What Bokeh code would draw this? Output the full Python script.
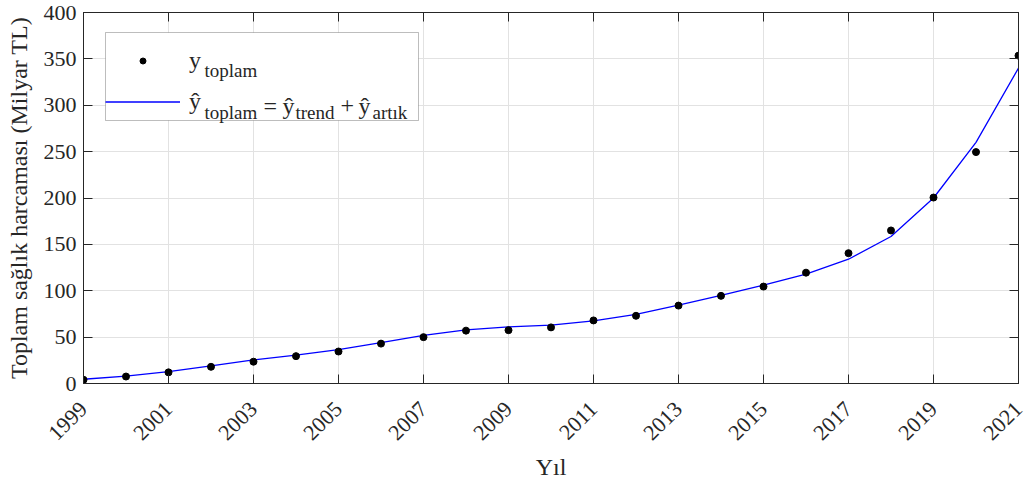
import math
from bokeh.plotting import figure
from bokeh.models import (Range1d, FixedTicker, LinearAxis, Legend, LegendItem,
                          Label, CustomJSTickFormatter, BoxAnnotation)
from bokeh.embed import file_html
from bokeh.resources import INLINE

# ---- data ----
years = list(range(1999, 2022))
y_observed = [4, 7.5, 12, 18, 23.5, 29.5, 34.5, 43, 50, 57, 57.5, 60.5, 68, 73,
              84, 94.5, 104.5, 119.5, 140.5, 165, 200.5, 249.5, 353.5]
y_fitted = [4.6, 8, 12.8, 19, 25.4, 30.5, 36.5, 44, 52, 57.8, 61, 63, 67.6, 74.5,
            84.5, 95, 106, 118, 134, 158.5, 200, 260, 340]
x_ticks = list(range(1999, 2022, 2))
y_ticks = list(range(0, 401, 50))

# ---- layout ----
W, H = 1033, 482
BL, BR, BT, BB = 83, 15, 12, 99
FRAME_H = H - BT - BB
FONT = "Liberation Serif"
INK = "#262626"

p = figure(width=W, height=H, output_backend="svg", toolbar_location=None,
           x_range=Range1d(1999, 2021), y_range=Range1d(0, 400),
           min_border_left=BL, min_border_right=BR, min_border_top=BT,
           min_border_bottom=BB, x_axis_label="Yıl",
           y_axis_label="Toplam sağlık harcaması (Milyar TL)")
p.background_fill_color = "white"
p.border_fill_color = "white"
p.outline_line_color = INK

p.xaxis.ticker = FixedTicker(ticks=x_ticks)
p.yaxis.ticker = FixedTicker(ticks=y_ticks)

# bottom axis with rotated year labels
bx = p.below[0]
bx.major_label_text_font = FONT
bx.major_label_text_font_size = "22px"
bx.major_label_text_color = INK
bx.major_label_orientation = math.pi / 4
bx.major_label_standoff = 22
bx.axis_label_standoff = 4

# mirrored axes on top and right (ticks only)
blank = CustomJSTickFormatter(code="return ''")
top_ax = LinearAxis(ticker=FixedTicker(ticks=x_ticks), formatter=blank)
right_ax = LinearAxis(ticker=FixedTicker(ticks=y_ticks), formatter=blank)
for ax in (top_ax, right_ax):
    ax.major_label_text_font_size = "0px"
    ax.major_label_standoff = 0
p.add_layout(top_ax, "above")
p.add_layout(right_ax, "right")

ly = p.left[0]
for ax in (bx, top_ax, right_ax, ly):
    ax.axis_line_color = INK
    ax.axis_line_width = 1
    ax.major_tick_line_color = INK
    ax.major_tick_in = 9
    ax.major_tick_out = 0
    ax.minor_tick_line_color = None
for ax in (bx, ly):
    ax.axis_label_text_font = FONT
    ax.axis_label_text_font_size = "24px"
    ax.axis_label_text_font_style = "normal"
    ax.axis_label_text_color = INK

ly.major_label_text_font = FONT
ly.major_label_text_color = INK
ly.major_label_text_font_size = "22px"
ly.major_label_standoff = 7
ly.axis_label_standoff = 9

p.xgrid.ticker = FixedTicker(ticks=x_ticks)
p.ygrid.ticker = FixedTicker(ticks=y_ticks)
p.grid.grid_line_color = "#e2e2e2"
p.grid.grid_line_width = 1

# ---- glyphs ----
r_line = p.line(years, y_fitted, line_color="#0000ff", line_width=1.3)
r_pts = p.scatter(years, y_observed, marker="circle", size=7,
                  fill_color="black", line_color="black")

# ---- legend ----
LEG_W, LEG_H = 313, 88
LEG_LEFT, LEG_TOP_GAP = 22, 20
LT = FRAME_H - LEG_TOP_GAP
p.add_layout(BoxAnnotation(left=LEG_LEFT, right=LEG_LEFT + LEG_W,
                           top=LT, bottom=LT - LEG_H,
                           left_units="screen", right_units="screen",
                           top_units="screen", bottom_units="screen",
                           fill_color="white", fill_alpha=1,
                           line_color=INK, line_width=1))
legend = Legend(items=[LegendItem(label="y", renderers=[r_pts]),
                       LegendItem(label="ŷ", renderers=[r_line])],
                location=(LEG_LEFT, LT - LEG_H),
                glyph_width=75, glyph_height=15, label_height=37,
                label_width=220, label_standoff=9, spacing=4, padding=5,
                margin=0, label_text_font=FONT, label_text_font_size="24px",
                label_text_color=INK, border_line_color=None,
                background_fill_alpha=0)
p.add_layout(legend)

pieces = [("toplam", 121, 38.3, 19), ("toplam", 121, 80, 19),
          ("=", 180, 73.3, 24), ("ŷ", 199, 73.3, 24), ("trend", 212, 80, 19),
          ("+", 257, 73.3, 24), ("ŷ", 275, 73.3, 24), ("artık", 289, 80, 19)]
for txt, dx, d, fs in pieces:
    p.add_layout(Label(x=dx, y=LT - d, x_units="screen", y_units="screen",
                       text=txt, text_font=FONT, text_font_size=f"{fs}px",
                       text_color=INK, text_baseline="alphabetic",
                       text_align="left", level="overlay"))

open("out.html", "w").write(file_html(p, INLINE))
